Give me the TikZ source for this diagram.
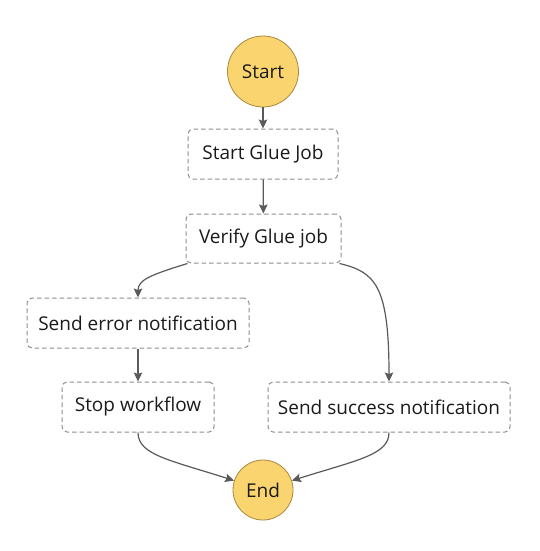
\documentclass[tikz,border=0pt]{standalone}
\usepackage{fontspec}
\setmainfont{Open Sans}
\usetikzlibrary{arrows.meta}
\definecolor{circfill}{HTML}{F9D46F}
\definecolor{circdraw}{HTML}{A8883E}
\definecolor{boxdraw}{HTML}{8E8E8E}
\definecolor{linecol}{HTML}{5A5A5A}
\definecolor{txt}{HTML}{1A1A1A}
\tikzset{
  term/.style={circle, fill=circfill, draw=circdraw, line width=0.8pt, inner sep=0pt, text=txt, font=\fontsize{19}{21}\selectfont},
  state/.style={rectangle, rounded corners=5pt, draw=boxdraw, dash pattern=on 4.5pt off 3pt, line width=1pt, text=txt, minimum height=50pt, inner sep=0pt, font=\fontsize{19}{21}\selectfont},
  conn/.style={draw=linecol, line width=1.2pt, -{Stealth[length=9pt,width=8.5pt,inset=1.5pt]}}
}
\begin{document}
\begin{tikzpicture}[x=1pt,y=-1pt]
\useasboundingbox (0,0) rectangle (539,551);
\node[term, minimum size=71pt] (start) at (263,71.5) {Start};
\node[state, minimum width=150pt] (sgj) at (263,154) {Start Glue Job};
\node[state, minimum width=155pt, minimum height=49pt] (verify) at (263.5,238.5) {Verify Glue job};
\node[state, minimum width=222pt] (err) at (138,323) {Send error notification};
\node[state, minimum width=152pt] (stop) at (138,407) {Stop workflow};
\node[state, minimum width=242pt] (succ) at (389,407) {Send success notification};
\node[term, minimum size=60pt] (end) at (263,490) {End};
\draw[conn] (start) -- (sgj);
\draw[conn] (sgj) -- (verify);
\draw[conn] ([xshift=2pt]verify.south west) .. controls (150,275) and (138,280) .. (err.north);
\draw[conn] ([xshift=-2pt]verify.south east) .. controls (375,272) and (389,285) .. (succ.north);
\draw[conn] (err) -- (stop);
\draw[conn] (stop.south) .. controls (138,455) and (170,460) .. (end.162);
\draw[conn] (succ.south) .. controls (389,455) and (357,460) .. (end.18);
\end{tikzpicture}
\end{document}
